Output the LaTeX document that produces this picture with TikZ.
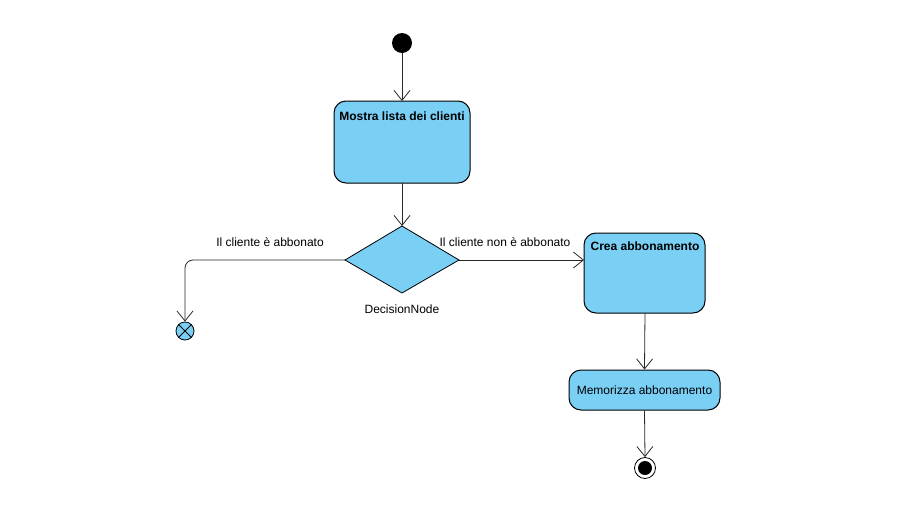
\documentclass[tikz,border=0pt]{standalone}
\usepackage{fontspec}
\setmainfont{Liberation Sans}
\usetikzlibrary{arrows.meta,shapes.geometric}
\definecolor{actblue}{RGB}{122,207,245}
\definecolor{edgecol}{RGB}{40,40,40}
\begin{document}
\begin{tikzpicture}[x=1pt,y=-1pt,
  every node/.style={font=\fontsize{12}{14}\selectfont},
  action/.style={draw=black,line width=1pt,fill=actblue,rounded corners=12pt,inner sep=0pt},
  flow/.style={draw=edgecol,line width=0.8pt,-{Straight Barb[length=10pt,width=16pt,line width=0.8pt]}},
  plain/.style={draw=edgecol,line width=0.8pt}]
\useasboundingbox (0,0) rectangle (903,509);
% initial
\node[circle,fill=black,minimum size=20pt,inner sep=0pt] (init) at (402,43) {};
% action 1
\path[action] (334,101) rectangle (470,183);
\node[inner sep=0pt] (a1lab) at (402,116) {\bfseries Mostra lista dei clienti};
\coordinate (a1top) at (402,101);
\coordinate (a1bot) at (402,183);
% decision
\path[fill=actblue,draw=black,line width=0.8pt] (402,226) -- (459,260) -- (402,293) -- (345,260) -- cycle;
\coordinate (dtop) at (402,226);
\coordinate (dleft) at (345,260);
\coordinate (dright) at (459,260);
\node (dlab) at (402,309) {DecisionNode};
% flow final
\node[circle,draw=black,line width=0.8pt,fill=actblue,minimum size=18pt,inner sep=0pt] (ff) at (185,331) {};
\draw[line width=0.8pt] (ff.north east) -- (ff.south west) (ff.north west) -- (ff.south east);
% action 2
\path[action] (584,233) rectangle (705,313);
\node[inner sep=0pt] (a2lab) at (645,246) {\bfseries Crea abbonamento};
\coordinate (a2left) at (584,260);
\coordinate (a2bot) at (645,313);
% action 3
\node[action,minimum width=151pt,minimum height=40pt] (a3) at (644.5,390) {Memorizza abbonamento};
% final
\node[circle,draw=black,line width=0.8pt,fill=white,minimum size=21pt,inner sep=0pt] (fin) at (645,468) {};
\node[circle,fill=black,minimum size=14pt,inner sep=0pt] (fininner) at (645,468) {};
% edges
\draw[flow] (init) -- (a1top);
\draw[flow] (a1bot) -- (dtop);
\draw[flow,rounded corners=8pt] (dleft) -- (185,260) -- (ff.north);
\draw[flow] (dright) -- (a2left);
\draw[flow] (a2bot) -- (a3.north);
\draw[flow] (a3.south) -- (fin.north);
% labels
\node (l1) at (270,242) {Il cliente è abbonato};
\node (l2) at (505,242) {Il cliente non è abbonato};
\end{tikzpicture}
\end{document}
